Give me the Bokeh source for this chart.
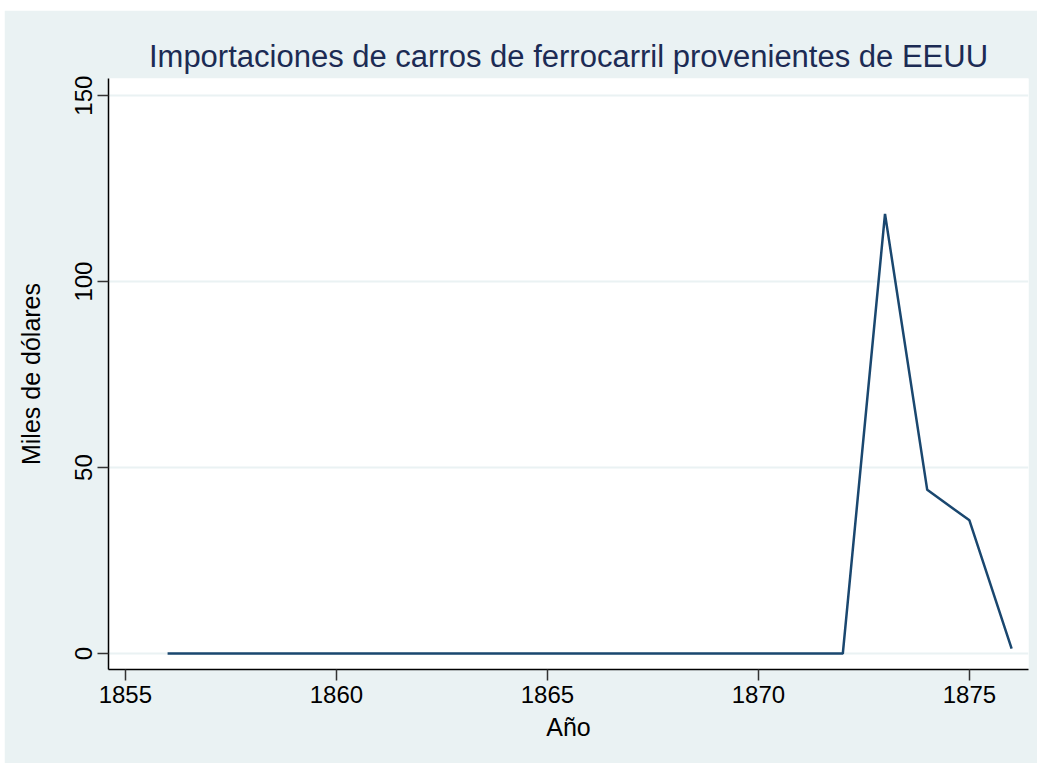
from bokeh.plotting import figure
from bokeh.models import Range1d, FixedTicker
from bokeh.embed import file_html
from bokeh.resources import INLINE

# Data
years = list(range(1856, 1877))
values = [0, 0, 0, 0, 0, 0, 0, 0, 0, 0, 0, 0, 0, 0, 0, 0, 0, 118.2, 44.0, 35.8, 1.3]
x_ticks = [1855, 1860, 1865, 1870, 1875]
y_ticks = [0, 50, 100, 150]

title_text = "Importaciones de carros de ferrocarril provenientes de EEUU"
x_label = "Año"
y_label = "Miles de dólares"

BG = "#EAF2F3"
LINE = "#1A476F"
NAVY = "#1C2B54"
FONT = "Liberation Sans"

p = figure(width=1033, height=753, output_backend="svg", toolbar_location=None,
           x_range=Range1d(1854.6, 1876.4), y_range=Range1d(-4.3, 154.6),
           title=title_text)
p.margin = (10, 0, 2, 4)

p.min_border_left = 104
p.min_border_right = 9
p.min_border_top = 68
p.min_border_bottom = 94
p.border_fill_color = BG
p.background_fill_color = "white"
p.outline_line_color = None

p.title.text_font = FONT
p.title.text_font_size = "31px"
p.title.text_font_style = "normal"
p.title.text_color = NAVY
p.title.align = "center"
p.title.offset = 0

p.line(years, values, line_color=LINE, line_width=2.5)

for ax in (p.xaxis[0], p.yaxis[0]):
    ax.axis_line_color = "black"
    ax.axis_line_width = 1.5
    ax.major_tick_line_color = "#333333"
    ax.major_tick_line_width = 1.5
    ax.major_tick_out = 11
    ax.major_tick_in = 0
    ax.minor_tick_line_color = None
    ax.major_label_text_font = FONT
    ax.major_label_text_font_size = "24px"
    ax.major_label_text_color = "black"
    ax.axis_label_text_font = FONT
    ax.axis_label_text_font_size = "25px"
    ax.axis_label_text_font_style = "normal"
    ax.axis_label_text_color = "black"

p.xaxis[0].ticker = FixedTicker(ticks=x_ticks)
p.yaxis[0].ticker = FixedTicker(ticks=y_ticks)
p.xaxis[0].axis_label = x_label
p.yaxis[0].axis_label = y_label
p.yaxis[0].major_label_orientation = "vertical"
p.xaxis[0].axis_label_standoff = 7
p.yaxis[0].axis_label_standoff = 28

p.xgrid.grid_line_color = None
p.ygrid.grid_line_color = BG
p.ygrid.grid_line_width = 2

open("out.html", "w").write(file_html(p, INLINE))
